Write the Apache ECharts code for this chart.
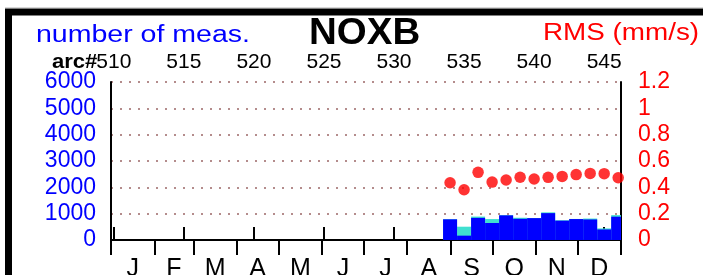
<!DOCTYPE html>
<html>
<head>
<meta charset="utf-8">
<script src="https://cdn.jsdelivr.net/npm/echarts@6/dist/echarts.min.js"></script>
<style>html,body{margin:0;padding:0;background:#fff;}#c{width:703px;height:275px;}</style>
</head>
<body>
<div id="c"></div>
<script>
// ---- data ----
const months = ['J','F','M','A','M','J','J','A','S','O','N','D'];
const monthDays = [31,28,31,30,31,30,31,31,30,31,30,31];
const arcTicks = [510,515,520,525,530,535,540,545];
const arcs = [534,535,536,537,538,539,540,541,542,543,544,545,546];
const measAll = [790,505,890,795,945,845,835,1050,750,800,815,440,945];
const measUsed = [785,165,840,645,935,805,830,1020,735,795,780,400,885];
const rms = [0.435,0.382,0.514,0.44,0.456,0.477,0.463,0.476,0.483,0.497,0.506,0.504,0.473];

// month boundaries and midpoints (day of year)
const monthStarts = [0];
monthDays.forEach(d => monthStarts.push(monthStarts[monthStarts.length-1] + d));
const monthMids = monthDays.map((d,i) => monthStarts[i] + d/2);

const FONT = "'Liberation Sans', Arial, sans-serif";
const chart = echarts.init(document.getElementById('c'), null, {renderer:'canvas'});

function barItem(color){
  return function(params, api){
    const a = api.value(0), v = api.value(1);
    const p0 = api.coord([a-0.5, v]);
    const p1 = api.coord([a+0.5, 0]);
    return {type:'rect', shape:{x:p0[0], y:p0[1], width:p1[0]-p0[0], height:p1[1]-p0[1]},
            style:{fill:color}};
  };
}

chart.setOption({
  animation:false,
  backgroundColor:'#fff',
  grid:{left:111, right:82, top:82, bottom:35, containLabel:false, outerBoundsMode:'none'},
  xAxis:[
    {type:'value', position:'bottom', min:0, max:365,
     axisLine:{show:true, lineStyle:{color:'#000', width:2}},
     axisTick:{show:true, customValues:monthStarts, length:15, lineStyle:{color:'#000', width:2}},
     axisLabel:{show:true, customValues:monthMids, margin:17, color:'#000', fontSize:25, fontFamily:FONT,
       formatter:function(v){ const i = monthMids.findIndex(m => Math.abs(m - v) < 0.01); return i>=0 ? months[i] : ''; }},
     splitLine:{show:false}},
    {type:'value', position:'top', min:509.8, max:546.2,
     axisLine:{show:true, lineStyle:{color:'#000', width:2}},
     axisTick:{show:true, customValues:arcTicks, length:13, lineStyle:{color:'#000', width:2}},
     axisLabel:{show:true, customValues:arcTicks, margin:9, color:'#000', fontSize:21, fontFamily:FONT,
       formatter:function(v){ return String(v); }},
     splitLine:{show:false}}
  ],
  yAxis:[
    {type:'value', position:'left', min:0, max:6000, interval:1000,
     axisLine:{show:true, lineStyle:{color:'#000', width:2}},
     axisTick:{show:false},
     axisLabel:{color:'#0000ff', fontSize:23, fontFamily:FONT, margin:15,
       formatter:function(v){ return String(v); }},
     splitLine:{show:true, lineStyle:{color:'#b48c8c', width:2, type:[2,7]}}},
    {type:'value', position:'right', min:0, max:1.2, interval:0.2,
     axisLine:{show:true, lineStyle:{color:'#000', width:2}},
     axisTick:{show:false},
     axisLabel:{color:'#ff0000', fontSize:23, fontFamily:FONT, margin:17,
       formatter:function(v){ return String(Math.round(v*10)/10); }},
     splitLine:{show:false}}
  ],
  series:[
    {type:'custom', name:'all', xAxisIndex:1, yAxisIndex:0, clip:true,
     data:arcs.map((a,i)=>[a, measAll[i]]), renderItem:barItem('#40e0d0'), z:2},
    {type:'custom', name:'used', xAxisIndex:1, yAxisIndex:0, clip:true,
     data:arcs.map((a,i)=>[a, measUsed[i]]), renderItem:barItem('#0000ff'), z:3},
    {type:'scatter', name:'rms', xAxisIndex:1, yAxisIndex:1, clip:true,
     symbol:'circle', symbolSize:11.5, itemStyle:{color:'#ff0000'},
     data:arcs.map((a,i)=>[a, rms[i]]), z:4}
  ],
  graphic:[
    {type:'line', shape:{x1:5, y1:7.5, x2:703, y2:7.5}, style:{stroke:'#d8d8d8', lineWidth:1}, silent:true},
    {type:'rect', shape:{x:8.5, y:12, width:1200, height:1200}, style:{fill:'none', stroke:'#000', lineWidth:7}, silent:true},
    {type:'text', x:36, y:35.5, scaleX:1.24, style:{text:'number of meas.', fill:'#0000ff', font:'23px '+FONT, verticalAlign:'middle', align:'left'}},
    {type:'text', x:309, y:33.5, scaleX:1.04, style:{text:'NOXB', fill:'#000', font:'bold 37px '+FONT, verticalAlign:'middle', align:'left'}},
    {type:'text', x:543, y:33.5, scaleX:1.21, style:{text:'RMS (mm/s)', fill:'#ff0000', font:'23px '+FONT, verticalAlign:'middle', align:'left'}},
    {type:'text', x:52, y:62, scaleX:1.05, style:{text:'arc#', fill:'#000', font:'bold 21px '+FONT, verticalAlign:'middle', align:'left'}}
  ]
});
</script>
</body>
</html>
